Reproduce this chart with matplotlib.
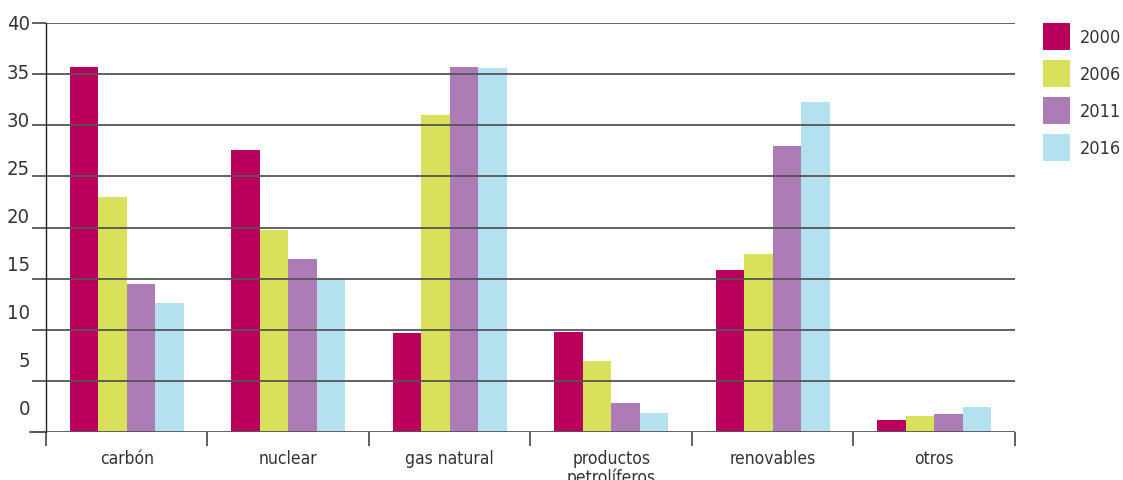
import numpy as np
import matplotlib
matplotlib.use('Agg')
import matplotlib.pyplot as plt
from matplotlib.transforms import ScaledTranslation
from matplotlib.patches import Rectangle

categorias = ['carbón', 'nuclear', 'gas natural', 'productos\npetrolíferos', 'renovables', 'otros']
anios = ['2000', '2006', '2011', '2016']
v2000 = [35.7, 27.6, 9.7, 9.8, 15.8, 1.2]
v2006 = [23.0, 19.8, 31.0, 6.9, 17.4, 1.6]
v2011 = [14.5, 16.9, 35.7, 2.8, 28.0, 1.8]
v2016 = [12.6, 15.0, 35.6, 1.9, 32.3, 2.4]
yticks = [0, 5, 10, 15, 20, 25, 30, 35, 40]

colores = ['#b8005c', '#d9e05a', '#ad7bb5', '#b3e1f0']
gris = '#555555'
texto = '#333333'

plt.rcParams['font.family'] = ['DejaVu Sans']
plt.rcParams['font.stretch'] = 'condensed'

W, H = 1123, 481
fig = plt.figure(figsize=(W/100, H/100), dpi=100)
ax = fig.add_axes([46/W, 48/H, 969/W, 409/H])

x = np.arange(len(categorias))
w = 0.177
for i, (vals, c) in enumerate(zip([v2000, v2006, v2011, v2016], colores)):
	ax.bar(x + (i - 1.5)*w, vals, width=w, color=c, zorder=1)

ax.set_xlim(-0.5, len(categorias) - 0.5)
ax.set_ylim(0, 40)

# lineas horizontales
for v in yticks:
	ax.axhline(v, color=gris, lw=1.3, zorder=2)
ax.plot([-16/969, 0], [0, 0], transform=ax.transAxes, color=gris, lw=1.3, clip_on=False)
ax.set_yticks(yticks)
ax.tick_params(axis='y', length=10, width=1.3, color=gris, labelleft=False)

# etiquetas del eje y (algo desplazadas hacia arriba, como en el original)
for v in yticks:
	dy = ((40 - v)/5*3 - 1)/100
	ax.text(-16/969, v, str(v), ha='right', va='center', fontsize=14.5, color=texto,
		transform=ax.get_yaxis_transform() + ScaledTranslation(0, dy, fig.dpi_scale_trans))

ax.set_xticks(np.arange(-0.5, len(categorias)), minor=False)
ax.set_xticklabels([])
ax.set_xticks(x, minor=True)
ax.set_xticklabels(categorias, minor=True, fontsize=12.5, color=texto, va='top', linespacing=1.05)
ax.tick_params(axis='x', which='major', length=10, width=1.3, color=gris)
ax.tick_params(axis='x', which='minor', length=0, pad=12)

for s in ['top', 'right', 'bottom']:
	ax.spines[s].set_visible(False)
ax.spines['left'].set_color('#222222')
ax.spines['left'].set_linewidth(1)
ax.spines['left'].set_zorder(3)

# leyenda a mano
for i, (c, a) in enumerate(zip(colores, anios)):
	top = 24 + i*37
	fig.add_artist(Rectangle((1043/W, 1 - (top + 27)/H), 27/W, 27/H,
		transform=fig.transFigure, facecolor=c, edgecolor='none'))
	fig.text(1080/W, 1 - (top + 14)/H, a, ha='left', va='center', fontsize=13, color=texto)

fig.savefig('out.png', dpi=100)
